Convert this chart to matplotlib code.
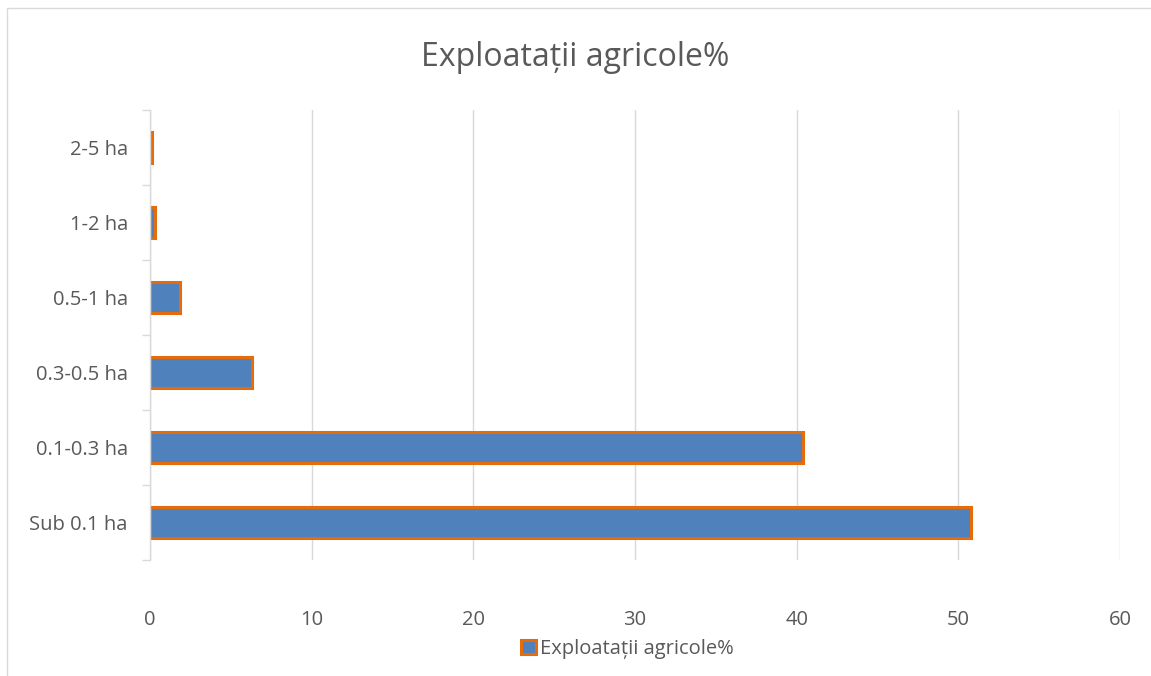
import matplotlib
matplotlib.use("Agg")
import matplotlib.pyplot as plt
from matplotlib.patches import Rectangle

categories = ["Sub 0.1 ha", "0.1-0.3 ha", "0.3-0.5 ha", "0.5-1 ha", "1-2 ha", "2-5 ha"]
values = [50.8, 40.4, 6.3, 1.85, 0.3, 0.15]
xticks = [0, 10, 20, 30, 40, 50, 60]
title = "Exploatații agricole%"

plt.rcParams['font.family'] = ['Open Sans', 'DejaVu Sans']
txt = "#595959"
grid = "#D9D9D9"

fig = plt.figure(figsize=(11.51, 6.76), dpi=100)
ax = fig.add_axes([150/1151, 1-560/676, 970/1151, 450/676])

y = list(range(len(categories)))
ax.barh(y, values, height=0.42, color="#4F81BD", edgecolor="#E46C0A",
        linewidth=2.2, label=title, zorder=3)

ax.set_xlim(0, 60)
ax.set_ylim(-0.5, len(categories) - 0.5)
ax.set_xticks(xticks)
ax.set_yticks(y)
ax.set_yticklabels(categories)
ax.set_yticks([i - 0.5 for i in range(len(categories) + 1)], minor=True)
ax.tick_params(axis="y", which="major", length=0, pad=16, labelsize=14.5, labelcolor=txt)
ax.tick_params(axis="y", which="minor", length=6, color=grid, width=1)
ax.tick_params(axis="x", length=0, pad=36, labelsize=14.5, labelcolor=txt)
ax.grid(axis="x", color=grid, linewidth=1, zorder=0)

for s in ["top", "right", "bottom"]:
    ax.spines[s].set_visible(False)
ax.spines["left"].set_color(grid)
ax.spines["left"].set_linewidth(1)
ax.spines["left"].set_zorder(4)

fig.suptitle(title, y=1-57/676, va="center", fontsize=23, color=txt)

leg = fig.legend(loc="center", bbox_to_anchor=(0.545, 1-649/676), frameon=False,
                 fontsize=14.5, handlelength=0.75, handleheight=0.75, handletextpad=0.2)
for t in leg.get_texts():
    t.set_color(txt)

fig.patches.append(Rectangle((7/1151, -0.1), 1.2, 1 - 8/676 + 0.1, transform=fig.transFigure,
                             fill=False, edgecolor=grid, linewidth=1))

fig.savefig("out.png", dpi=100)
